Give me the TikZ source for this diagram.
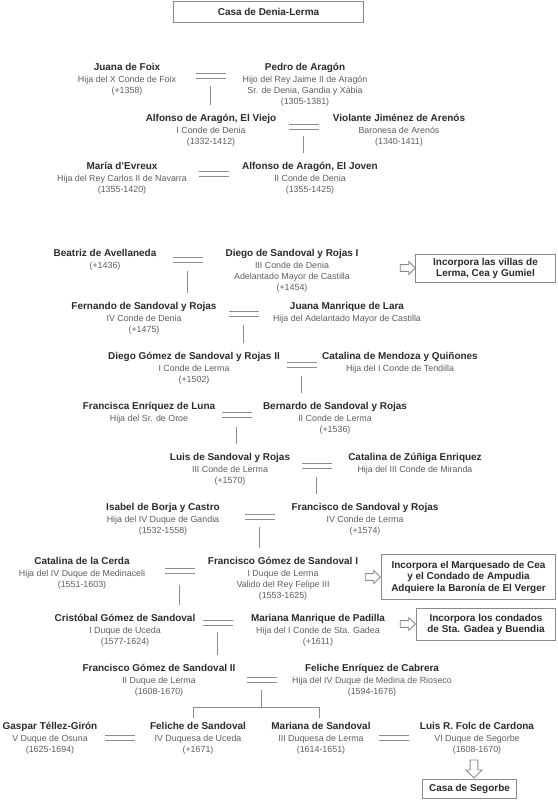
\documentclass[tikz,border=0pt]{standalone}
\usepackage{fontspec}
\setmainfont{Liberation Sans}
\usetikzlibrary{shapes.arrows,calc}
\definecolor{namecol}{HTML}{2B2B2B}
\definecolor{subcol}{HTML}{5E5E5E}
\definecolor{linecol}{HTML}{8C8C8C}
\definecolor{boxcol}{HTML}{8A8A8A}

\begin{document}
\begin{tikzpicture}[x=1bp,y=-1bp,
  nm/.style={font=\fontsize{10}{12}\selectfont\bfseries,text=namecol,
             inner sep=0pt,anchor=base},
  sb/.style={font=\fontsize{8.9}{10.9}\selectfont,text=subcol,
             inner sep=0pt,align=center,anchor=north},
  bx/.style={draw=boxcol,line width=1bp,fill=white,inner sep=0pt,
             font=\fontsize{10}{11.5}\selectfont\bfseries,text=namecol,align=center},
  ar/.style={single arrow,draw=boxcol,line width=0.8bp,fill=white,inner sep=3pt,
             minimum height=15bp,single arrow head extend=3pt},
  lin/.style={draw=linecol,line width=1bp},
]
\useasboundingbox (0,0) rectangle (558,800);

\node[bx,minimum width=190bp,minimum height=21bp] (casa) at (268.5,12) {Casa de Denia-Lerma};

% Aragon
\node[nm] (juana) at (127,70.6) {Juana de Foix};
\node[sb] (juana-t) at ([yshift=-5.3pt]juana.base) {Hija del X Conde de Foix\\(+1358)};
\node[nm] (pedro) at (305,70.6) {Pedro de Aragón};
\node[sb] (pedro-t) at ([yshift=-5.3pt]pedro.base) {Hijo del Rey Jaime II de Aragón\\Sr. de Denia, Gandia y Xàbia\\(1305-1381)};
\coordinate (mA) at (210.5,76);

\node[nm] (alfonsoV) at (211,121.6) {Alfonso de Aragón, El Viejo};
\node[sb] (alfonsoV-t) at ([yshift=-5.3pt]alfonsoV.base) {I Conde de Denia\\(1332-1412)};
\node[nm] (violante) at (399,121.6) {Violante Jiménez de Arenós};
\node[sb] (violante-t) at ([yshift=-5.3pt]violante.base) {Baronesa de Arenós\\(1340-1411)};
\coordinate (mB) at (303.5,127);

\node[nm] (maria) at (122,169.6) {María d’Evreux};
\node[sb] (maria-t) at ([yshift=-5.3pt]maria.base) {Hija del Rey Carlos II de Navarra\\(1355-1420)};
\node[nm] (alfonsoJ) at (310,169.6) {Alfonso de Aragón, El Joven};
\node[sb] (alfonsoJ-t) at ([yshift=-5.3pt]alfonsoJ.base) {II Conde de Denia\\(1355-1425)};
\coordinate (mC) at (213.5,174);

% Sandoval y Rojas
\node[nm] (beatriz) at (105,256.6) {Beatriz de Avellaneda};
\node[sb] (beatriz-t) at ([yshift=-5.3pt]beatriz.base) {(+1436)};
\node[nm] (diego1) at (292,256.6) {Diego de Sandoval y Rojas I};
\node[sb] (diego1-t) at ([yshift=-5.3pt]diego1.base) {III Conde de Denia\\Adelantado Mayor de Castilla\\(+1454)};
\coordinate (mD) at (187.5,260);
\node[ar] (a1) at (406,268) {};
\node[bx,minimum width=140bp,minimum height=28bp] (b1) at (485.5,268.5) {Incorpora las villas de\\Lerma, Cea y Gumiel};

\node[nm] (fernando) at (144,309.6) {Fernando de Sandoval y Rojas};
\node[sb] (fernando-t) at ([yshift=-5.3pt]fernando.base) {IV Conde de Denia\\(+1475)};
\node[nm] (juanaM) at (347,309.6) {Juana Manrique de Lara};
\node[sb] (juanaM-t) at ([yshift=-5.3pt]juanaM.base) {Hija del Adelantado Mayor de Castilla};
\coordinate (mE) at (243.5,314);

\node[nm] (diego2) at (194,359.6) {Diego Gómez de Sandoval y Rojas II};
\node[sb] (diego2-t) at ([yshift=-5.3pt]diego2.base) {I Conde de Lerma\\(+1502)};
\node[nm] (catalinaM) at (400,359.6) {Catalina de Mendoza y Quiñones};
\node[sb] (catalinaM-t) at ([yshift=-5.3pt]catalinaM.base) {Hija del I Conde de Tendilla};
\coordinate (mF) at (301.5,365);

\node[nm] (francisca) at (149,409.6) {Francisca Enríquez de Luna};
\node[sb] (francisca-t) at ([yshift=-5.3pt]francisca.base) {Hija del Sr. de Oroe};
\node[nm] (bernardo) at (335,409.6) {Bernardo de Sandoval y Rojas};
\node[sb] (bernardo-t) at ([yshift=-5.3pt]bernardo.base) {II Conde de Lerma\\(+1536)};
\coordinate (mG) at (236.5,415);

\node[nm] (luis) at (230,460.6) {Luis de Sandoval y Rojas};
\node[sb] (luis-t) at ([yshift=-5.3pt]luis.base) {III Conde de Lerma\\(+1570)};
\node[nm] (catalinaZ) at (415,460.6) {Catalina de Zúñiga Enriquez};
\node[sb] (catalinaZ-t) at ([yshift=-5.3pt]catalinaZ.base) {Hija del III Conde de Miranda};
\coordinate (mH) at (316.5,466);

\node[nm] (isabel) at (163,510.6) {Isabel de Borja y Castro};
\node[sb] (isabel-t) at ([yshift=-5.3pt]isabel.base) {Hija del IV Duque de Gandia\\(1532-1558)};
\node[nm] (francisco) at (365,510.6) {Francisco de Sandoval y Rojas};
\node[sb] (francisco-t) at ([yshift=-5.3pt]francisco.base) {IV Conde de Lerma\\(+1574)};
\coordinate (mI) at (259.5,517);

% Duques de Lerma
\node[nm] (catalinaC) at (82,564.6) {Catalina de la Cerda};
\node[sb] (catalinaC-t) at ([yshift=-5.3pt]catalinaC.base) {Hija del IV Duque de Medinaceli\\(1551-1603)};
\node[nm] (franciscoG1) at (283,564.6) {Francisco Gómez de Sandoval I};
\node[sb] (franciscoG1-t) at ([yshift=-5.3pt]franciscoG1.base) {I Duque de Lerma\\Valido del Rey Felipe III\\(1553-1625)};
\coordinate (mJ) at (179.5,571);
\node[ar] (a2) at (371,577) {};
\node[bx,minimum width=174bp,minimum height=45bp] (b2) at (468.5,577) {Incorpora el Marquesado de Cea\\y el Condado de Ampudia\\Adquiere la Baronía de El Verger};

\node[nm] (cristobal) at (125,621.6) {Cristóbal Gómez de Sandoval};
\node[sb] (cristobal-t) at ([yshift=-5.3pt]cristobal.base) {I Duque de Uceda\\(1577-1624)};
\node[nm] (marianaM) at (318,621.6) {Mariana Manrique de Padilla};
\node[sb] (marianaM-t) at ([yshift=-5.3pt]marianaM.base) {Hija del I Conde de Sta. Gadea\\(+1611)};
\coordinate (mK) at (217.5,623);
\node[ar] (a3) at (406,624) {};
\node[bx,minimum width=139bp,minimum height=32bp] (b3) at (486,624.5) {Incorpora los condados\\de Sta. Gadea y Buendia};

\node[nm] (franciscoG2) at (159,671.6) {Francisco Gómez de Sandoval II};
\node[sb] (franciscoG2-t) at ([yshift=-5.3pt]franciscoG2.base) {II Duque de Lerma\\(1608-1670)};
\node[nm] (feliche) at (372,671.6) {Feliche Enríquez de Cabrera};
\node[sb] (feliche-t) at ([yshift=-5.3pt]feliche.base) {Hija del IV Duque de Medina de Rioseco\\(1594-1676)};
\coordinate (mL) at (261.5,680);

\node[nm] (gaspar) at (50,729.6) {Gaspar Téllez-Girón};
\node[sb] (gaspar-t) at ([yshift=-5.3pt]gaspar.base) {V Duque de Osuna\\(1625-1694)};
\node[nm] (felicheS) at (198,729.6) {Feliche de Sandoval};
\node[sb] (felicheS-t) at ([yshift=-5.3pt]felicheS.base) {IV Duquesa de Uceda\\(+1671)};
\node[nm] (marianaS) at (321,729.6) {Mariana de Sandoval};
\node[sb] (marianaS-t) at ([yshift=-5.3pt]marianaS.base) {III Duquesa de Lerma\\(1614-1651)};
\node[nm] (luisR) at (477,729.6) {Luis R. Folc de Cardona};
\node[sb] (luisR-t) at ([yshift=-5.3pt]luisR.base) {VI Duque de Segorbe\\(1608-1670)};
\coordinate (mM1) at (119.5,738);
\coordinate (mM2) at (393.5,738);
\coordinate (brL) at (193.5,707.5);
\coordinate (brR) at (319.5,707.5);

\node[ar,shape border rotate=270,minimum height=18bp,inner sep=3.5pt,
      single arrow head extend=4pt] (a4) at (474,767) {};
\node[bx,minimum width=94bp,minimum height=19bp] (segorbe) at (469.5,789) {Casa de Segorbe};

% matrimonios
\foreach \m in {mA,mB,mC,mD,mE,mF,mG,mH,mI,mJ,mK,mL,mM1,mM2}
  \draw[lin] ([shift={(-15,-2.5)}]\m) -- ([shift={(15,-2.5)}]\m)
             ([shift={(-15,2.5)}]\m) -- ([shift={(15,2.5)}]\m);

% descendencia
\draw[lin] ([yshift=-10pt]mA) -- ($(mA |- alfonsoV.north)+(0,-9)$);
\draw[lin] ([yshift=-9pt]mB) -- ($(mB |- alfonsoJ.north)+(0,-9)$);
\draw[lin] ([yshift=-11pt]mD) -- ($(mD |- fernando.north)+(0,-9)$);
\draw[lin] ([yshift=-11pt]mE) -- ($(mE |- diego2.north)+(0,-9)$);
\draw[lin] ([yshift=-11pt]mF) -- ($(mF |- bernardo.north)+(0,-9)$);
\draw[lin] ([yshift=-12pt]mG) -- ($(mG |- luis.north)+(0,-9)$);
\draw[lin] ([yshift=-11pt]mH) -- ($(mH |- francisco.north)+(0,-9)$);
\draw[lin] ([yshift=-10pt]mI) -- ($(mI |- franciscoG1.north)+(0,-9)$);
\draw[lin] ([yshift=-14pt]mJ) -- ($(mJ |- cristobal.north)+(0,-9)$);
\draw[lin] ([yshift=-9pt]mK) -- ($(mK |- franciscoG2.north)+(0,-9)$);
\draw[lin] ([yshift=-10pt]mL) -- (mL |- brL);
\draw[lin] (brL) ++(0,10) -- (brL) -- (brR) -- ++(0,10);
\end{tikzpicture}
\end{document}
